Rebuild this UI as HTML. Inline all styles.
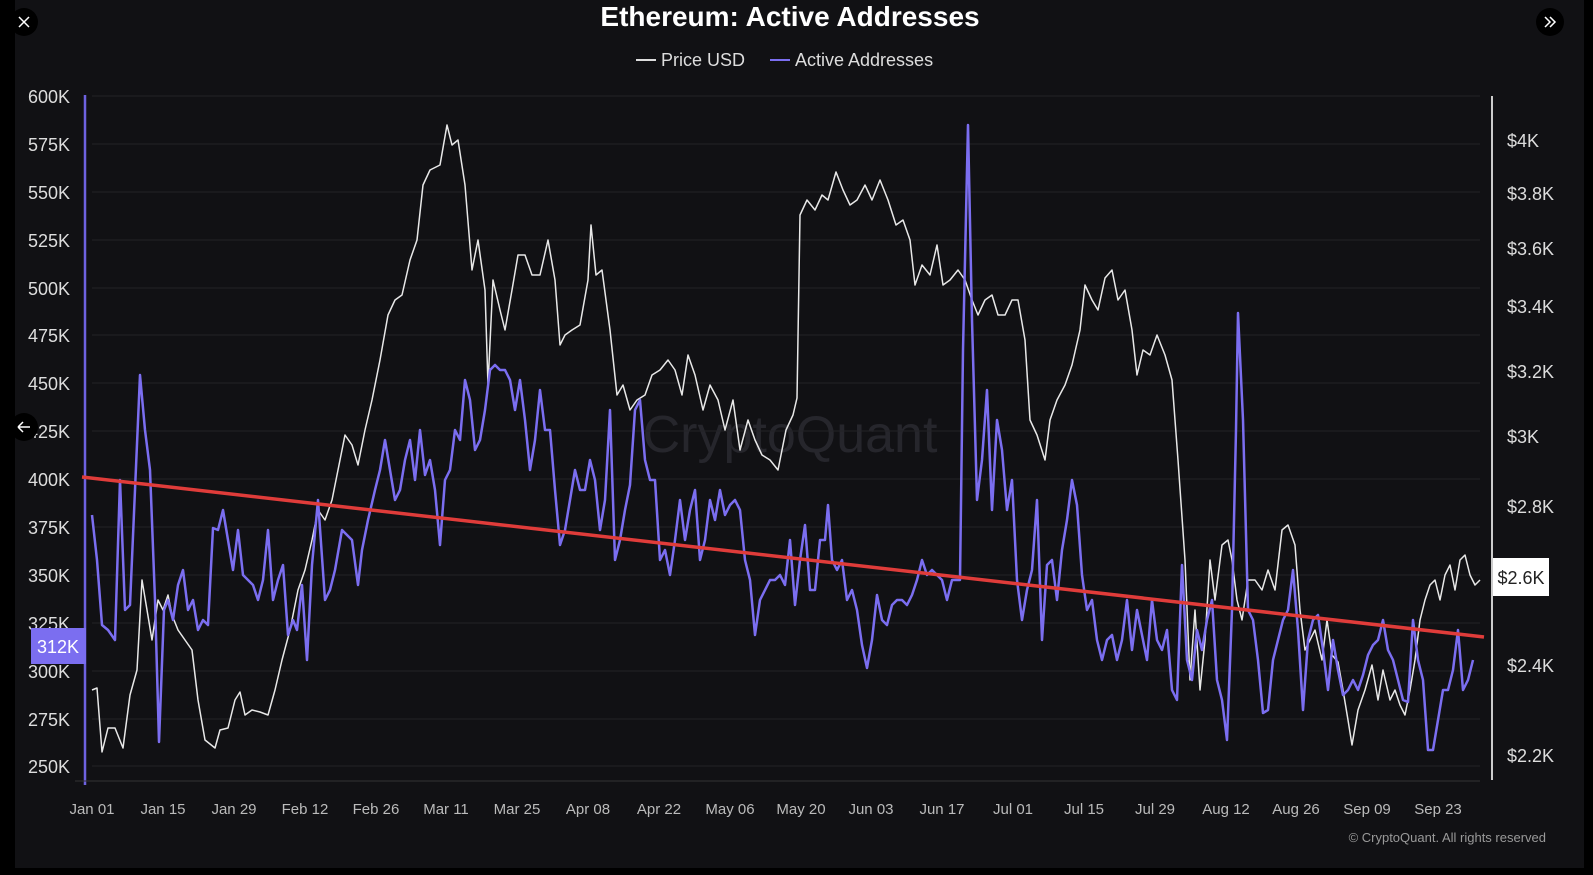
<!DOCTYPE html>
<html><head><meta charset="utf-8"><style>
html,body{margin:0;padding:0;background:#000;}
svg{display:block}
text{font-family:"Liberation Sans",sans-serif}
</style></head><body>
<svg width="1593" height="875" viewBox="0 0 1593 875" xmlns="http://www.w3.org/2000/svg">
<rect x="0" y="0" width="1593" height="875" fill="#000"/>
<rect x="15" y="0" width="1569" height="868" fill="#111114"/>
<text x="790" y="26" fill="#fff" font-size="28" font-weight="bold" text-anchor="middle">Ethereum: Active Addresses</text>
<line x1="636" y1="60" x2="656" y2="60" stroke="#ddd" stroke-width="2"/>
<text x="661" y="66" fill="#ddd" font-size="18">Price USD</text>
<line x1="770" y1="60" x2="790" y2="60" stroke="#7b6ef0" stroke-width="2"/>
<text x="795" y="66" fill="#ddd" font-size="18">Active Addresses</text>
<text x="790" y="452" fill="#26262c" font-size="52" text-anchor="middle">CryptoQuant</text>
<g stroke="#222226" stroke-width="1">
<line x1="92" y1="96" x2="1480" y2="96"/><line x1="92" y1="144" x2="1480" y2="144"/><line x1="92" y1="192" x2="1480" y2="192"/><line x1="92" y1="240" x2="1480" y2="240"/><line x1="92" y1="288" x2="1480" y2="288"/><line x1="92" y1="335" x2="1480" y2="335"/><line x1="92" y1="383" x2="1480" y2="383"/><line x1="92" y1="431" x2="1480" y2="431"/><line x1="92" y1="479" x2="1480" y2="479"/><line x1="92" y1="527" x2="1480" y2="527"/><line x1="92" y1="575" x2="1480" y2="575"/><line x1="92" y1="623" x2="1480" y2="623"/><line x1="92" y1="671" x2="1480" y2="671"/><line x1="92" y1="719" x2="1480" y2="719"/><line x1="92" y1="766" x2="1480" y2="766"/>
</g>
<g fill="#ddd" font-size="18" text-anchor="end">
<text x="70" y="103">600K</text><text x="70" y="151">575K</text><text x="70" y="199">550K</text><text x="70" y="247">525K</text><text x="70" y="295">500K</text><text x="70" y="342">475K</text><text x="70" y="390">450K</text><text x="70" y="438">425K</text><text x="70" y="486">400K</text><text x="70" y="534">375K</text><text x="70" y="582">350K</text><text x="70" y="630">325K</text><text x="70" y="678">300K</text><text x="70" y="726">275K</text><text x="70" y="773">250K</text>
</g>
<line x1="85" y1="95" x2="85" y2="785" stroke="#6e62e0" stroke-width="2.5"/>
<rect x="31" y="628" width="55" height="36" fill="#7b6ef0"/>
<text x="58" y="653" fill="#fff" font-size="18" text-anchor="middle">312K</text>
<line x1="1492" y1="96" x2="1492" y2="780" stroke="#ccc" stroke-width="2"/>
<g fill="#ddd" font-size="18">
<text x="1507" y="147">$4K</text><text x="1507" y="200">$3.8K</text><text x="1507" y="255">$3.6K</text><text x="1507" y="313">$3.4K</text><text x="1507" y="378">$3.2K</text><text x="1507" y="443">$3K</text><text x="1507" y="513">$2.8K</text><text x="1507" y="672">$2.4K</text><text x="1507" y="762">$2.2K</text>
</g>
<line x1="75" y1="781" x2="1480" y2="781" stroke="#333" stroke-width="1"/>
<g fill="#bbb" font-size="15" text-anchor="middle">
<text x="92" y="814">Jan 01</text><text x="163" y="814">Jan 15</text><text x="234" y="814">Jan 29</text><text x="305" y="814">Feb 12</text><text x="376" y="814">Feb 26</text><text x="446" y="814">Mar 11</text><text x="517" y="814">Mar 25</text><text x="588" y="814">Apr 08</text><text x="659" y="814">Apr 22</text><text x="730" y="814">May 06</text><text x="801" y="814">May 20</text><text x="871" y="814">Jun 03</text><text x="942" y="814">Jun 17</text><text x="1013" y="814">Jul 01</text><text x="1084" y="814">Jul 15</text><text x="1155" y="814">Jul 29</text><text x="1226" y="814">Aug 12</text><text x="1296" y="814">Aug 26</text><text x="1367" y="814">Sep 09</text><text x="1438" y="814">Sep 23</text>
</g>
<text x="1546" y="842" fill="#999" font-size="13" text-anchor="end">© CryptoQuant. All rights reserved</text>
<polyline fill="none" stroke="#e8e8e8" stroke-width="1.5" stroke-linejoin="round" points="92,690 97,688 102,752 108,728 115,728 123,748 130,695 137,670 142,580 147,610 152,640 158,600 163,610 168,595 172,615 178,630 185,640 192,650 198,700 205,740 215,748 220,730 228,728 235,700 240,692 245,715 252,710 260,712 268,715 275,690 282,660 290,630 298,590 305,570 312,540 318,510 325,520 332,500 340,460 345,435 352,445 358,465 365,430 372,400 380,360 388,315 395,300 402,295 410,260 417,240 423,185 430,170 440,165 447,125 452,145 458,140 465,185 472,270 478,240 485,290 488,385 493,280 500,310 505,330 512,290 518,255 525,255 532,275 540,275 548,240 555,280 560,345 565,335 572,330 580,325 588,280 591,225 596,275 602,270 610,330 617,395 623,385 630,410 637,400 645,395 652,375 660,370 668,360 675,370 682,395 688,355 695,375 703,410 710,385 718,400 725,430 733,400 740,450 748,420 755,440 762,455 770,460 778,470 786,430 793,415 797,398 800,215 807,200 815,210 822,195 828,200 836,172 843,190 850,205 857,200 865,185 872,200 880,180 888,200 896,225 903,220 910,240 915,285 922,265 930,275 937,245 943,285 950,280 958,270 965,280 972,300 978,315 985,300 992,295 998,315 1005,315 1012,300 1018,300 1025,340 1030,420 1037,435 1045,460 1050,420 1057,400 1065,385 1072,365 1080,330 1085,285 1092,300 1098,310 1105,278 1112,270 1118,300 1125,290 1132,330 1137,375 1143,350 1150,355 1157,335 1165,355 1172,380 1178,460 1185,560 1190,680 1195,610 1200,690 1205,640 1210,560 1215,600 1222,545 1228,540 1232,560 1237,600 1242,620 1248,580 1255,580 1262,590 1268,570 1275,590 1282,530 1288,525 1295,545 1300,610 1305,650 1310,640 1315,630 1322,660 1327,620 1332,655 1338,662 1343,690 1348,720 1352,745 1358,710 1365,690 1372,665 1378,700 1383,670 1390,700 1395,690 1400,705 1405,715 1410,690 1415,660 1420,620 1425,600 1430,585 1435,580 1440,600 1445,575 1450,565 1455,590 1460,560 1465,555 1470,575 1475,585 1480,580"/>
<polyline fill="none" stroke="#7b6ef0" stroke-width="2.5" stroke-linejoin="round" points="92,515 97,560 102,625 108,630 115,640 120,480 125,610 130,605 135,490 140,375 145,430 150,470 155,600 159,742 164,610 168,600 173,620 178,585 183,570 188,610 193,600 198,630 203,620 208,625 213,528 218,530 223,510 228,540 233,570 238,530 243,575 248,580 253,585 258,600 263,580 268,530 273,600 278,580 283,565 288,635 293,620 297,630 302,585 307,660 312,565 318,500 325,600 330,590 335,570 342,530 347,535 352,540 358,585 362,550 368,520 375,490 380,470 385,440 390,470 395,500 400,490 405,460 410,440 415,480 420,430 425,475 430,460 435,490 440,545 445,480 450,470 455,430 460,440 465,380 470,400 475,450 480,440 485,410 490,370 495,365 500,370 505,370 510,380 515,410 520,380 525,420 530,470 535,440 540,390 545,430 550,430 555,490 560,545 565,530 570,500 575,470 580,490 585,490 590,460 595,480 600,530 605,500 610,410 615,560 620,540 625,510 630,485 635,410 640,400 645,460 650,480 655,480 660,560 665,550 670,575 675,540 680,500 685,540 690,510 695,490 700,560 705,540 710,500 715,520 720,490 725,515 730,505 735,500 740,510 745,560 750,580 755,635 760,600 765,590 770,580 775,580 780,575 785,585 790,540 795,605 800,560 805,525 810,590 815,590 820,540 825,540 828,505 832,560 837,570 842,560 847,600 852,590 857,610 862,645 867,668 872,640 877,595 882,620 887,625 892,605 897,600 902,600 907,605 912,595 917,580 922,560 927,575 932,570 937,575 942,580 947,600 952,580 957,580 960,580 963,350 968,125 972,320 977,500 982,460 987,390 992,510 997,420 1002,450 1007,510 1012,480 1017,580 1022,620 1027,590 1032,570 1037,500 1042,640 1047,565 1052,560 1057,600 1062,550 1067,520 1072,480 1077,505 1082,575 1087,610 1092,600 1097,640 1102,660 1107,640 1112,635 1117,660 1122,640 1127,600 1132,650 1137,610 1142,635 1147,660 1152,600 1157,640 1162,650 1167,630 1172,690 1177,700 1182,565 1187,660 1192,680 1197,630 1202,650 1207,620 1212,600 1217,680 1222,700 1227,740 1232,610 1236,430 1238,313 1243,420 1248,610 1253,620 1258,660 1263,713 1268,710 1273,660 1278,640 1283,620 1288,610 1293,570 1298,630 1303,710 1308,640 1313,620 1318,615 1323,650 1328,690 1333,640 1338,670 1343,695 1348,690 1353,680 1358,690 1363,675 1368,655 1373,645 1378,640 1383,620 1388,650 1393,660 1398,680 1403,700 1408,702 1413,620 1418,660 1423,680 1428,750 1433,750 1438,720 1443,690 1448,690 1453,670 1458,630 1463,690 1468,680 1473,660"/>
<line x1="82" y1="477" x2="1484" y2="637" stroke="#e03c3a" stroke-width="3.5"/>
<rect x="1493" y="558" width="56" height="38" fill="#fff"/>
<text x="1521" y="584" fill="#222" font-size="18" text-anchor="middle">$2.6K</text>
<circle cx="24" cy="22" r="14" fill="#000"/>
<path d="M19,17 L29,27 M29,17 L19,27" stroke="#fff" stroke-width="1.5"/>
<circle cx="24" cy="427" r="14" fill="#000"/>
<path d="M18,427 L30,427 M18,427 L23,422 M18,427 L23,432" stroke="#fff" stroke-width="1.5" fill="none"/>
<circle cx="1550" cy="22" r="14" fill="#000"/>
<path d="M1545,17 L1550,22 L1545,27 M1550,17 L1555,22 L1550,27" stroke="#fff" stroke-width="1.5" fill="none"/>
</svg>
</body></html>
